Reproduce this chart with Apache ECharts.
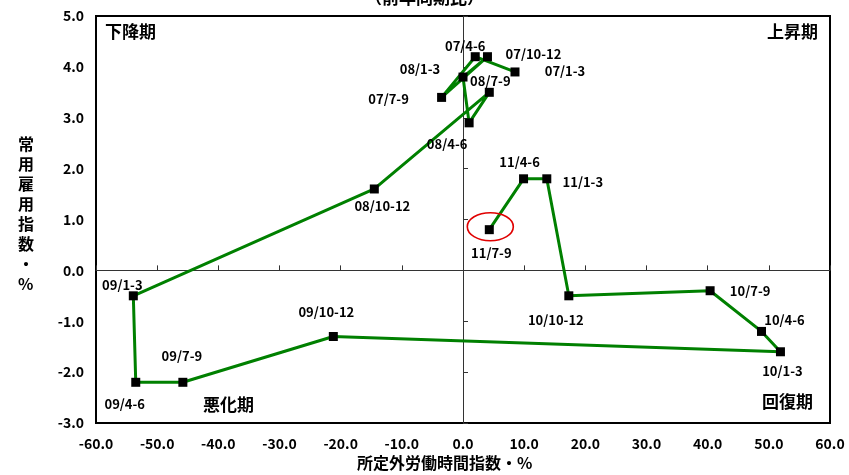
<!DOCTYPE html>
<html>
<head>
<meta charset="utf-8">
<script src="https://cdn.jsdelivr.net/npm/echarts@6/dist/echarts.min.js"></script>
<style>
  html, body { margin: 0; padding: 0; background: #fff; }
  #chart { width: 849px; height: 475px; }
</style>
</head>
<body>
<div id="chart"></div>
<script>
// Quarterly path: overtime hours index (x) vs. regular employment index (y), YoY %
var quarters = ['07/1-3', '07/4-6', '07/7-9', '07/10-12',
                '08/1-3', '08/4-6', '08/7-9', '08/10-12',
                '09/1-3', '09/4-6', '09/7-9', '09/10-12',
                '10/1-3', '10/4-6', '10/7-9', '10/10-12',
                '11/1-3', '11/4-6', '11/7-9'];
var overtimeIdx = [8.5, 2.0, -3.5, 4.0,
                   0.0, 1.0, 4.3, -14.5,
                   -53.9, -53.5, -45.8, -21.2,
                   51.9, 48.8, 40.4, 17.3,
                   13.7, 9.9, 4.3];
var employmentIdx = [3.9, 4.2, 3.4, 4.2,
                     3.8, 2.9, 3.5, 1.6,
                     -0.5, -2.2, -2.2, -1.3,
                     -1.6, -1.2, -0.4, -0.5,
                     1.8, 1.8, 0.8];
var xTicks = [-60, -50, -40, -30, -20, -10, 0, 10, 20, 30, 40, 50, 60];
var yTicks = [-3, -2, -1, 0, 1, 2, 3, 4, 5];

// Label offsets (px) from each marker, per quarter
var labelShift = [[50, -1], [-10, -11], [-53, 2], [46, -3],
                  [-43, -8], [-22, 21], [1, -11], [8, 17],
                  [-11, -11], [-11, 22], [-1, -26], [-7, -24],
                  [2, 19], [23, -11], [40, 0], [-13, 24],
                  [36, 3], [-4, -17], [2, 23]];

var FONT = '"Noto Sans CJK JP", "Noto Sans", sans-serif';

var points = quarters.map(function (q, i) {
  return {
    name: q,
    value: [overtimeIdx[i], employmentIdx[i]],
    label: { offset: labelShift[i] }
  };
});

var chart = echarts.init(document.getElementById('chart'), null, { renderer: 'canvas' });

var fmt = function (v) { return Number(v).toFixed(1); };

var option = {
  backgroundColor: '#fff',
  animation: false,
  grid: {
    left: 96, right: 19, top: 16, bottom: 52,
    show: true, borderColor: '#000', borderWidth: 2, backgroundColor: 'transparent'
  },
  xAxis: [
    {
      type: 'value', min: xTicks[0], max: xTicks[xTicks.length - 1], interval: 10,
      position: 'bottom',
      axisLine: { show: false }, axisTick: { show: false }, splitLine: { show: false },
      axisLabel: { formatter: fmt, color: '#000', fontFamily: FONT, fontWeight: 'bold', fontSize: 14, margin: 14 }
    },
    {
      type: 'value', min: xTicks[0], max: xTicks[xTicks.length - 1], interval: 10,
      position: 'bottom',
      axisLine: { show: true, onZero: true, lineStyle: { color: '#333', width: 1 } },
      axisTick: { show: true, inside: true, length: 5, lineStyle: { color: '#333' } },
      axisLabel: { show: false }, splitLine: { show: false }
    }
  ],
  yAxis: [
    {
      type: 'value', min: yTicks[0], max: yTicks[yTicks.length - 1], interval: 1,
      position: 'left',
      axisLine: { show: false }, axisTick: { show: false }, splitLine: { show: false },
      axisLabel: { formatter: fmt, color: '#000', fontFamily: FONT, fontWeight: 'bold', fontSize: 14, margin: 12 }
    },
    {
      type: 'value', min: yTicks[0], max: yTicks[yTicks.length - 1], interval: 1,
      position: 'left',
      axisLine: { show: true, onZero: true, lineStyle: { color: '#333', width: 1 } },
      axisTick: { show: true, inside: true, length: 5, lineStyle: { color: '#333' } },
      axisLabel: { show: false }, splitLine: { show: false }
    }
  ],
  series: [{
    type: 'line',
    xAxisIndex: 0, yAxisIndex: 0,
    data: points,
    symbol: 'rect', symbolSize: 9,
    itemStyle: { color: '#000' },
    lineStyle: { color: '#008000', width: 3 },
    z: 5,
    label: {
      show: true,
      position: 'inside',
      align: 'center', verticalAlign: 'middle',
      formatter: function (p) { return p.name; },
      color: '#000', fontFamily: FONT, fontWeight: 'bold', fontSize: 13
    }
  }],
  graphic: [
    { type: 'text', left: 'center', top: -11,
      style: { text: '（前年同期比）', x: 0, fill: '#000', font: 'bold 17px ' + FONT } },
    { type: 'text', left: 105, top: 23,
      style: { text: '下降期', fill: '#000', font: 'bold 17px ' + FONT } },
    { type: 'text', right: 31, top: 23,
      style: { text: '上昇期', fill: '#000', font: 'bold 17px ' + FONT } },
    { type: 'text', left: 203, top: 396,
      style: { text: '悪化期', fill: '#000', font: 'bold 17px ' + FONT } },
    { type: 'text', right: 36, top: 393,
      style: { text: '回復期', fill: '#000', font: 'bold 17px ' + FONT } },
    { type: 'text', left: 357, top: 455,
      style: { text: '所定外労働時間指数・%', fill: '#000', font: 'bold 16px ' + FONT } },
    { type: 'text', left: 18, top: 134,
      style: { text: '常\n用\n雇\n用\n指\n数\n・\n%', fill: '#000', font: 'bold 16px ' + FONT,
               lineHeight: 20, align: 'center' } }
  ]
};

chart.setOption(option);

// Highlight ring around the latest quarter
var last = points.length - 1;
var c = chart.convertToPixel({ xAxisIndex: 0, yAxisIndex: 0 }, points[last].value);
chart.setOption({
  graphic: option.graphic.concat([{
    type: 'ellipse', z: 100,
    shape: { cx: c[0] + 1, cy: c[1] - 3, rx: 23, ry: 14 },
    style: { fill: 'none', stroke: '#e00000', lineWidth: 1.6 }
  }])
});
</script>
</body>
</html>
